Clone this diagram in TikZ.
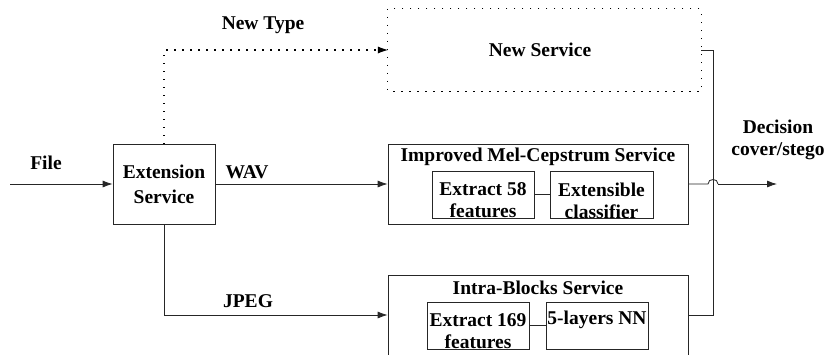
\documentclass[tikz,border=0pt]{standalone}
\usepackage{fontspec}
\setmainfont{Liberation Serif}
\usetikzlibrary{arrows.meta}
\begin{document}
\begin{tikzpicture}[x=1pt,y=-1pt,
  font=\fontsize{19.5}{22}\selectfont\bfseries,
  every node/.style={inner sep=0pt},
  box/.style={draw=black!85,line width=0.8pt,align=center,inner sep=0pt},
  lbl/.style={align=center},
  conn/.style={draw=black!85,line width=0.8pt},
  arr/.style={conn,-{Latex[length=10pt,width=7pt]}},
  dots/.style={draw=black,line width=1.2pt,dash pattern=on 1.1pt off 6.9pt},
  dotarr/.style={dots,-{Latex[length=10pt,width=7pt,line width=0pt]}}]
\useasboundingbox (0,0) rectangle (827,354);
\clip (0,0) rectangle (827,354);
% nodes
\coordinate (fin) at (10,184);
\node[box,minimum width=102pt,minimum height=80pt,font=\fontsize{19.5}{25}\selectfont\bfseries] (ext) at (164,184) {Extension\\Service};
\node[minimum width=313pt,minimum height=82pt] (newsvc) at (544.5,50) {};
\draw[dots] (newsvc.north west) rectangle (newsvc.south east);
\node[lbl] (newsvcl) at (540,50) {New Service};
\node[box,minimum width=300pt,minimum height=80pt] (mel) at (538,184) {};
\node[lbl] (melt) at (538,157) {Improved Mel-Cepstrum Service};
\node[box,minimum width=102pt,minimum height=47pt] (ex58) at (483,194.5) {};
\node[lbl] (ex58t) at (483,200.5) {Extract 58\\features};
\node[box,minimum width=103pt,minimum height=47pt] (cls) at (601.5,194.5) {};
\node[lbl] (clst) at (601.5,200.5) {Extensible\\classifier};
\node[box,minimum width=300pt,minimum height=80pt] (intra) at (538,315) {};
\node[lbl] (intrat) at (538,288) {Intra-Blocks Service};
\node[box,minimum width=102pt,minimum height=47pt] (ex169) at (478,325.5) {};
\node[lbl] (ex169t) at (478,331) {Extract 169\\features};
\node[box,minimum width=102pt,minimum height=47pt] (nn) at (597,325.5) {};
\node[lbl] (nnt) at (597,320) {5-layers NN};
\coordinate (dec) at (777,184);
\coordinate (j1) at (708,184);
\coordinate (j2) at (718,184);
\coordinate (bus) at (713,50);
% labels
\node[lbl] (filel) at (46,163) {File};
\node[lbl] (wavl) at (247,172) {WAV};
\node[lbl] (jpegl) at (248,301) {JPEG};
\node[lbl] (ntl) at (263,25) {New Type};
\node[lbl] (decl) at (778,140) {Decision\\cover/stego};
% connectors
\draw[arr] (fin) -- (ext.west);
\draw[arr] (ext.east) -- (mel.west);
\draw[arr] (ext.south) |- (intra.west);
\draw[dotarr] (ext.north) |- (newsvc.west);
\draw[conn] (ex58.east) -- (cls.west);
\draw[conn] (ex169.east) -- (nn.west);
\draw[conn] (newsvc.east |- bus) -- (bus) |- (intra.east);
\draw[conn] (mel.east) -- (j1) .. controls (708,178) and (718,178) .. (j2);
\draw[arr] (j2) -- (dec);
\end{tikzpicture}
\end{document}
